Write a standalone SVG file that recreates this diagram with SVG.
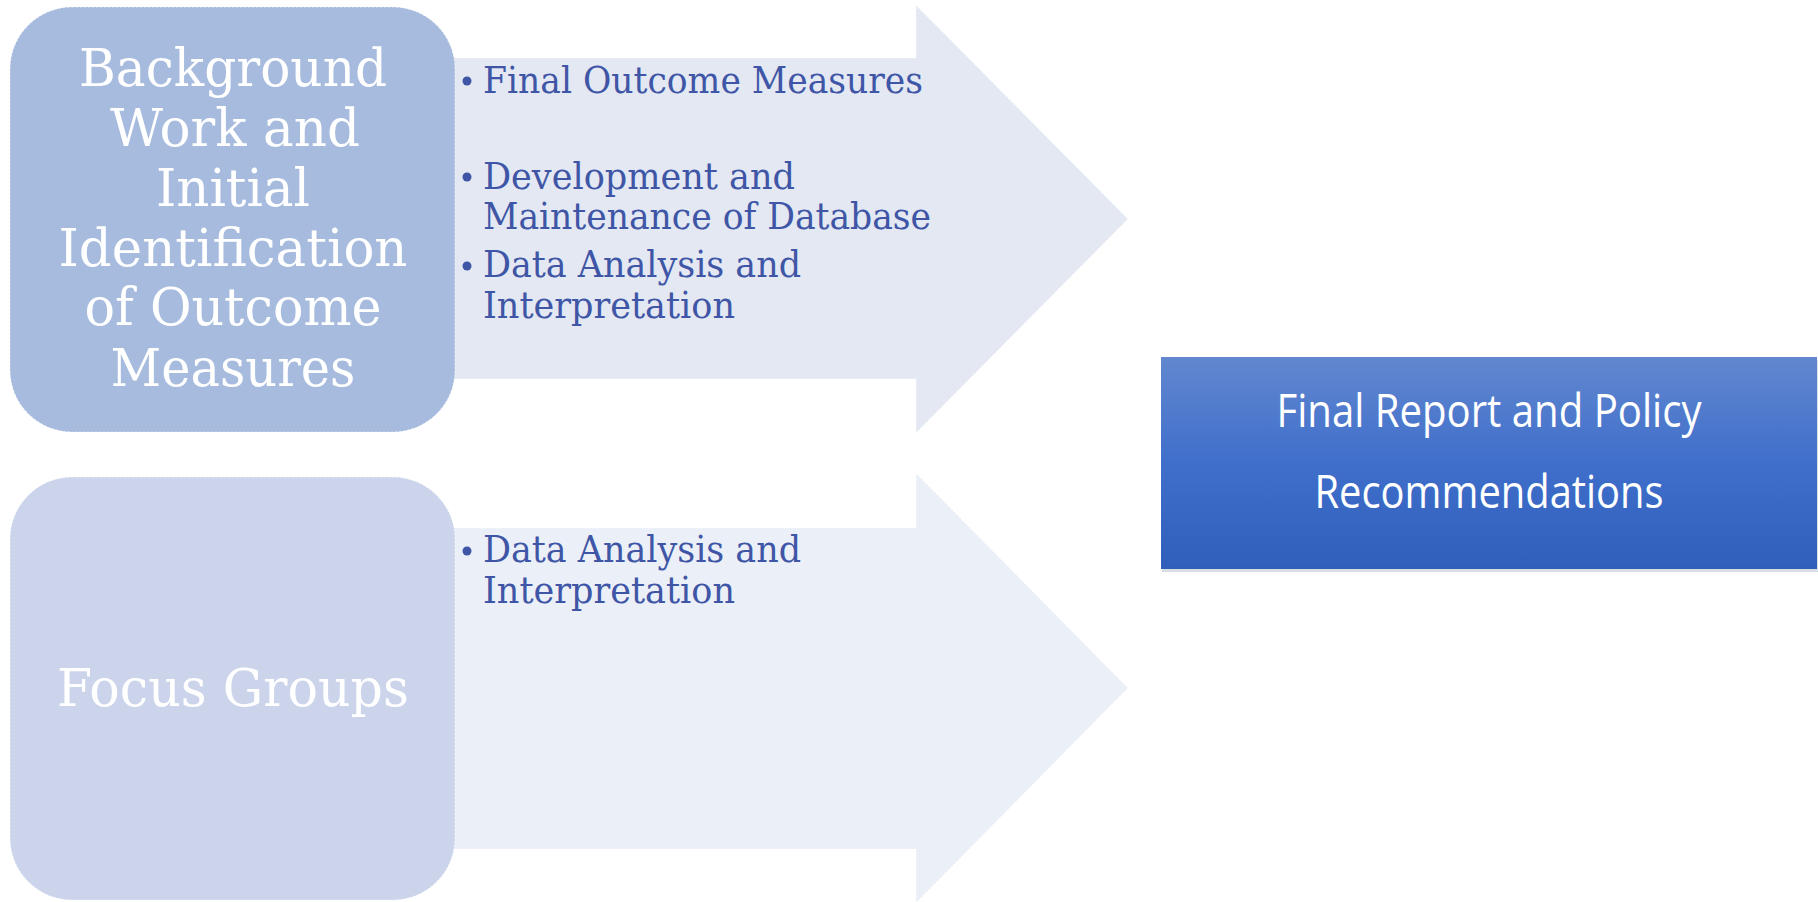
<svg xmlns="http://www.w3.org/2000/svg" width="1818" height="902" viewBox="0 0 1818 902">
  <defs>
    <linearGradient id="blueGrad" x1="0" y1="0" x2="0" y2="1">
      <stop offset="0" stop-color="#6287CF"/>
      <stop offset="0.5" stop-color="#3F6FCB"/>
      <stop offset="1" stop-color="#2F5FBB"/>
    </linearGradient>
  </defs>
  <style>
    .edge { stroke: #FFFFFF; stroke-opacity: 0.55; stroke-width: 1.2; stroke-dasharray: 2 2; }
    .box-title { font-family: "DejaVu Serif", "Liberation Serif", serif; fill: #FFFFFF; text-anchor: middle; font-size: 53px; }
    .bullet-text { font-family: "DejaVu Serif Condensed", "DejaVu Serif", "Liberation Serif", serif; fill: #3F56A6; font-size: 37px; }
    .bullet { fill: #3F56A6; }
    .final-text { font-family: "Open Sans", "Noto Sans", "Liberation Sans", sans-serif; fill: #FFFFFF; text-anchor: middle; font-size: 45px; }
  </style>
  <rect width="1818" height="902" fill="#FFFFFF"/>

  <g id="connectors">
    <g id="arrow-top">
      <path class="edge" d="M 440 58 L 916 58 L 916 5 L 1128 219 L 916 433 L 916 379 L 440 379 Z" fill="#E3E8F3"/>
      <circle class="bullet" cx="467" cy="81" r="4.5"/>
      <text class="bullet-text" x="483" y="93" textLength="440" lengthAdjust="spacingAndGlyphs">Final Outcome Measures</text>
      <circle class="bullet" cx="467" cy="177" r="4.5"/>
      <text class="bullet-text" x="483" y="189" textLength="312" lengthAdjust="spacingAndGlyphs">Development and</text>
      <text class="bullet-text" x="483" y="229" textLength="448" lengthAdjust="spacingAndGlyphs">Maintenance of Database</text>
      <circle class="bullet" cx="467" cy="266" r="4.5"/>
      <text class="bullet-text" x="483" y="277" textLength="318" lengthAdjust="spacingAndGlyphs">Data Analysis and</text>
      <text class="bullet-text" x="483" y="318" textLength="252" lengthAdjust="spacingAndGlyphs">Interpretation</text>
    </g>
    <g id="arrow-bottom">
      <path class="edge" d="M 440 528 L 916 528 L 916 473 L 1128 688 L 916 903 L 916 849 L 440 849 Z" fill="#EBEFF8"/>
      <circle class="bullet" cx="467" cy="551" r="4.5"/>
      <text class="bullet-text" x="483" y="562" textLength="318" lengthAdjust="spacingAndGlyphs">Data Analysis and</text>
      <text class="bullet-text" x="483" y="603" textLength="252" lengthAdjust="spacingAndGlyphs">Interpretation</text>
    </g>
  </g>

  <g id="node-background">
    <rect class="edge" x="10" y="7" width="445" height="425" rx="62" ry="62" fill="#A6BBDD"/>
    <text class="box-title" x="233" y="86" textLength="308" lengthAdjust="spacingAndGlyphs">Background</text>
    <text class="box-title" x="235" y="146" textLength="250" lengthAdjust="spacingAndGlyphs">Work and</text>
    <text class="box-title" x="233" y="206" textLength="154" lengthAdjust="spacingAndGlyphs">Initial</text>
    <text class="box-title" x="233" y="266" textLength="349" lengthAdjust="spacingAndGlyphs">Identification</text>
    <text class="box-title" x="233" y="325" textLength="297" lengthAdjust="spacingAndGlyphs">of Outcome</text>
    <text class="box-title" x="233" y="386" textLength="245" lengthAdjust="spacingAndGlyphs">Measures</text>
  </g>

  <g id="node-focus">
    <rect class="edge" x="10" y="477" width="445" height="423" rx="62" ry="62" fill="#CBD4EB"/>
    <text class="box-title" x="233" y="706" font-size="55" textLength="352" lengthAdjust="spacingAndGlyphs">Focus Groups</text>
  </g>

  <g id="node-final">
    <rect x="1162" y="360" width="656" height="212" fill="#C9CFD9" opacity="0.7"/>
    <rect x="1161" y="357" width="656" height="212" fill="url(#blueGrad)"/>
    <text class="final-text" x="1489" y="427" textLength="425" lengthAdjust="spacingAndGlyphs">Final Report and Policy</text>
    <text class="final-text" x="1489" y="508" textLength="349" lengthAdjust="spacingAndGlyphs">Recommendations</text>
  </g>
</svg>
